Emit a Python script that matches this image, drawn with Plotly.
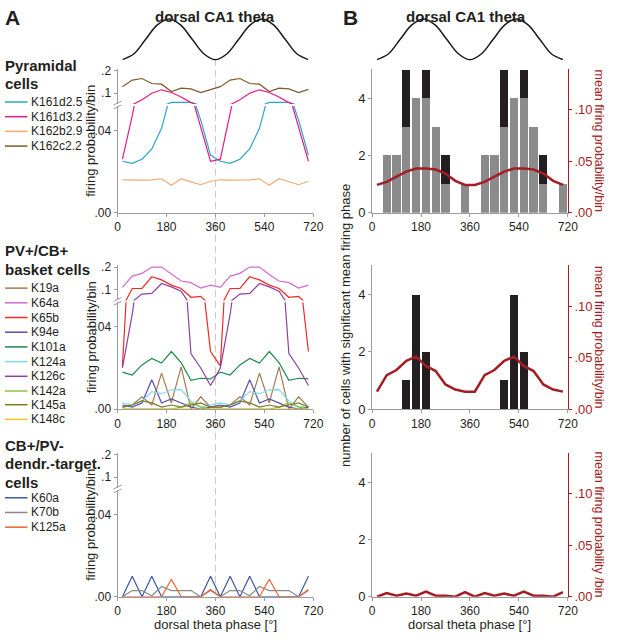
import plotly.graph_objects as go

W, H = 617, 640
def px(x): return x / W
def py(y): return 1 - y / H

# ---------------- data ----------------
phase = [18, 54, 90, 126, 162, 198, 234, 270, 306, 342,
         378, 414, 450, 486, 522, 558, 594, 630, 666, 702]
x_tickvals = [0, 180, 360, 540, 720]
x_ticktext = ["0", "180", "360", "540", "720"]
# schematic theta oscillation (trough at 0/360/720, peak at 180/540)
theta_phase = [0, 45, 90, 135, 180, 225, 270, 315, 360, 405, 450, 495, 540, 585, 630, 675, 720]
theta_wave = [-1, -0.71, 0, 0.71, 1, 0.71, 0, -0.71, -1, -0.71, 0, 0.71, 1, 0.71, 0, -0.71, -1]

# firing probability per bin, one theta cycle (figure shows it twice)
pyr_names = ["K161d2.5", "K161d3.2", "K162b2.9", "K162c2.2"]
pyr_colors = ["#2aa5c6", "#e8198b", "#f2aa72", "#7b5a2b"]
K161d2_5 = [0.025, 0.024, 0.026, 0.031, 0.041, 0.059, 0.060, 0.059, 0.045, 0.028]
K161d3_2 = [0.026, 0.047, 0.071, 0.100, 0.115, 0.103, 0.083, 0.058, 0.042, 0.025]
K162b2_9 = [0.016, 0.0158, 0.0158, 0.016, 0.0165, 0.0133, 0.0165, 0.015, 0.0136, 0.0153]
K162c2_2 = [0.129, 0.158, 0.165, 0.143, 0.140, 0.107, 0.122, 0.119, 0.103, 0.117]
pyr_values = [K161d2_5, K161d3_2, K162b2_9, K162c2_2]

bc_names = ["K19a", "K64a", "K65b", "K94e", "K101a", "K124a", "K126c", "K142a", "K145a", "K148c"]
bc_colors = ["#a27b52", "#cf6bcf", "#ee2a24", "#5a4fa8", "#1f8a4c", "#7fd9ea",
             "#8e3f9e", "#86c540", "#7d7a23", "#f6c620"]
K19a = [0.001, 0.002, 0.006, 0.002, 0.0175, 0.003, 0.0205, 0.0, 0.006, 0.001]
K64a = [0.110, 0.160, 0.172, 0.200, 0.200, 0.167, 0.138, 0.131, 0.107, 0.120]
K65b = [0.021, 0.105, 0.105, 0.157, 0.143, 0.120, 0.105, 0.066, 0.070, 0.028]
K94e = [0.002, 0.001, 0.003, 0.0143, 0.003, 0.005, 0.003, 0.001, 0.0, 0.001]
K101a = [0.018, 0.0166, 0.0215, 0.0246, 0.0224, 0.028, 0.0226, 0.014, 0.015, 0.0147]
K124a = [0.003, 0.002, 0.004, 0.0085, 0.0075, 0.0094, 0.0095, 0.004, 0.001, 0.002]
K126c = [0.020, 0.046, 0.080, 0.083, 0.127, 0.112, 0.093, 0.027, 0.020, 0.0115]
K142a = [0.0, 0.0, 0.0, 0.0, 0.0, 0.0, 0.001, 0.003, 0.001, 0.0]
K145a = [0.001, 0.002, 0.004, 0.003, 0.001, 0.002, 0.001, 0.002, 0.003, 0.001]
K148c = [0.0, 0.0, 0.0, 0.0, 0.0, 0.0, 0.0, 0.0, 0.0, 0.0]
bc_values = [K19a, K64a, K65b, K94e, K101a, K124a, K126c, K142a, K145a, K148c]

dt_names = ["K60a", "K70b", "K125a"]
dt_colors = ["#3a55a6", "#8a8a8a", "#f0632a"]
K60a = [0.0, 0.010, 0.0, 0.010, 0.0, 0.0, 0.0, 0.0, 0.0, 0.010]
K70b = [0.0, 0.003, 0.003, 0.0005, 0.005, 0.003, 0.003, 0.003, 0.0, 0.003]
K125a = [0.0, 0.0, 0.0, 0.0, 0.0, 0.0085, 0.0, 0.0, 0.0, 0.0035]
dt_values = [K60a, K70b, K125a]

# panel B: number of cells with significant mean phase (grey / black stacked)
pyr_count_grey = [0, 2, 2, 3, 4, 4, 3, 1, 0, 1, 0, 2, 2, 3, 4, 4, 3, 1, 0, 1]
pyr_count_black = [0, 0, 0, 2, 0, 1, 0, 1, 0, 0, 0, 0, 0, 2, 0, 1, 0, 1, 0, 0]
bc_count = [0, 0, 0, 1, 4, 2, 0, 0, 0, 0, 0, 0, 0, 1, 4, 2, 0, 0, 0, 0]
dt_count = [0] * 20
pyr_mean = [0.027, 0.030, 0.035, 0.040, 0.043, 0.043, 0.042, 0.038, 0.031, 0.027]
bc_mean = [0.017, 0.033, 0.038, 0.047, 0.051, 0.042, 0.037, 0.024, 0.019, 0.017]
dt_mean = [0.0, 0.0035, 0.001, 0.003, 0.001, 0.005, 0.001, 0.001, 0.0, 0.0045]

def two_cycles(v):
    return list(v) + list(v)

# ---------------- styling ----------------
FONT = "Liberation Sans, Arial, sans-serif"
TXT = "#231f20"
AX = "#9d9d9d"
RED = "#a51d24"
GREY_BAR = "#8b8b8b"
BLACK_BAR = "#231f20"

TOPS = [65, 265.5, 457]
PH = 147

fig = go.Figure()

def note(text, x, y, size=13, color=TXT, angle=0, xanchor="center"):
    return dict(text=text, x=px(x), y=py(y), xref="paper", yref="paper",
                xanchor=xanchor, yanchor="middle", textangle=angle, showarrow=False,
                font=dict(family=FONT, size=size, color=color))

def xaxis(dom, anchor):
    return dict(domain=[px(dom[0]), px(dom[1])], range=[0, 720], anchor=anchor,
                tickvals=x_tickvals, ticktext=x_ticktext, showline=True, linecolor=AX,
                linewidth=1, ticks="outside", ticklen=3, tickcolor=AX, showgrid=False,
                zeroline=False, tickfont=dict(family=FONT, size=12, color=TXT))

layout = dict(width=W, height=H, margin=dict(l=0, r=0, t=0, b=0),
              paper_bgcolor="white", plot_bgcolor="rgba(0,0,0,0)",
              showlegend=False, barmode="stack", bargap=0)

A_X = (117, 317)
B_X = (377, 577)
LOW_RANGE = [0, 0.0519]
UP_RANGE = [0.0522, 0.2087]

shapes = []
annotations = []

groups = [(pyr_values, pyr_colors), (bc_values, bc_colors), (dt_values, dt_colors)]
for i, T in enumerate(TOPS):
    xn = 1 + i
    ylow = 1 + 2 * i
    yup = 2 + 2 * i
    xk = "xaxis" if xn == 1 else f"xaxis{xn}"
    ylk = "yaxis" if ylow == 1 else f"yaxis{ylow}"
    yuk = f"yaxis{yup}"
    xref = "x" if xn == 1 else f"x{xn}"
    ylref = "y" if ylow == 1 else f"y{ylow}"
    yuref = f"y{yup}"
    layout[xk] = xaxis(A_X, ylref)
    layout[ylk] = dict(domain=[py(T + PH), py(T + 38)], range=LOW_RANGE, anchor=xref,
                       tickvals=[0, 0.04], ticktext=[".00", ".04"], showline=True,
                       linecolor=AX, ticks="outside", ticklen=3, tickcolor=AX,
                       showgrid=False, zeroline=False,
                       tickfont=dict(family=FONT, size=12, color=TXT))
    layout[yuk] = dict(domain=[py(T + 36), py(T)], range=UP_RANGE, anchor=xref,
                       tickvals=[0.1, 0.2], ticktext=[".1", ".2"], showline=True,
                       linecolor=AX, ticks="outside", ticklen=3, tickcolor=AX,
                       showgrid=False, zeroline=False,
                       tickfont=dict(family=FONT, size=12, color=TXT))
    vals, cols = groups[i]
    for v, c in zip(vals, cols):
        for yr in (ylref, yuref):
            fig.add_trace(go.Scatter(x=phase, y=two_cycles(v), mode="lines",
                                     line=dict(color=c, width=1.2), xaxis=xref, yaxis=yr,
                                     hoverinfo="skip"))
    yb = T + 37
    for d in (-2, 2):
        shapes.append(dict(type="line", xref="paper", yref="paper",
                           x0=px(113), y0=py(yb + d + 2), x1=px(121), y1=py(yb + d - 2),
                           line=dict(color=AX, width=1)))
    annotations.append(note("firing probability/bin", 90, T + PH / 2, angle=-90))

counts = [(pyr_count_grey, pyr_count_black), (None, bc_count), (None, dt_count)]
means = [pyr_mean, bc_mean, dt_mean]
right_titles = ["mean firing probability/bin", "mean firing probability/bin",
                "mean firing probability /bin"]
for i, T in enumerate(TOPS):
    xn = 4 + i
    yl = 7 + 2 * i
    yr = 8 + 2 * i
    xref, ylref, yrref = f"x{xn}", f"y{yl}", f"y{yr}"
    layout[f"xaxis{xn}"] = xaxis(B_X, ylref)
    layout[f"yaxis{yl}"] = dict(domain=[py(T + PH), py(T)], range=[0, 5.03], anchor=xref,
                                tickvals=[0, 2, 4], ticktext=["0", "2", "4"], showline=True,
                                linecolor=AX, ticks="outside", ticklen=3, tickcolor=AX,
                                showgrid=False, zeroline=False,
                                tickfont=dict(family=FONT, size=13, color=TXT))
    layout[f"yaxis{yr}"] = dict(domain=[py(T + PH), py(T)], range=[0, 0.14], anchor=xref,
                                overlaying=ylref, side="right",
                                tickvals=[0, 0.05, 0.1], ticktext=[".00", ".05", ".10"],
                                showline=True, linecolor=RED, ticks="outside", ticklen=3,
                                tickcolor=RED, showgrid=False, zeroline=False,
                                tickfont=dict(family=FONT, size=13, color=RED))
    g, b = counts[i]
    if g is not None:
        fig.add_trace(go.Bar(x=phase, y=g, width=30, marker=dict(color=GREY_BAR, line=dict(width=0)),
                             xaxis=xref, yaxis=ylref, hoverinfo="skip"))
    fig.add_trace(go.Bar(x=phase, y=b, width=30, marker=dict(color=BLACK_BAR, line=dict(width=0)),
                         xaxis=xref, yaxis=ylref, hoverinfo="skip"))
    fig.add_trace(go.Scatter(x=phase, y=two_cycles(means[i]), mode="lines",
                             line=dict(color=RED, width=2.5), xaxis=xref, yaxis=yrref,
                             hoverinfo="skip"))
    annotations.append(note(right_titles[i], 609, T + PH / 2, size=12.5, color=RED, angle=90))

for xn, yn, xd in ((10, 13, (122, 312)), (11, 14, (382, 572))):
    layout[f"xaxis{xn}"] = dict(domain=[px(xd[0]), px(xd[1])], range=[0, 720], visible=False,
                                anchor=f"y{yn}")
    layout[f"yaxis{yn}"] = dict(domain=[py(57), py(13)], range=[-1.06, 1.06], visible=False,
                                anchor=f"x{xn}")
    fig.add_trace(go.Scatter(x=theta_phase, y=theta_wave, mode="lines",
                             line=dict(color="#1a1a1a", width=1.5, shape="spline", smoothing=1.0),
                             xaxis=f"x{xn}", yaxis=f"y{yn}", hoverinfo="skip"))

shapes.append(dict(type="line", xref="paper", yref="paper", x0=px(217), x1=px(217),
                   y0=py(55), y1=py(604), layer="below",
                   line=dict(color="#c8c8c8", width=1, dash="7px,4px")))

legend_blocks = [
    (["Pyramidal", "cells"], [62, 80], pyr_names, pyr_colors, [99, 114, 129, 144]),
    (["PV+/CB+", "basket cells"], [251, 270], bc_names, bc_colors,
     [289, 304, 319, 334, 349, 364, 379, 394, 408, 423]),
    (["CB+/PV-", "dendr.-target.", "cells"], [450, 468, 487], dt_names, dt_colors,
     [503, 518, 533]),
]
for titles, tys, names, cols, iys in legend_blocks:
    for t, ty in zip(titles, tys):
        annotations.append(note(f"<b>{t}</b>", 0, ty, size=15, xanchor="left"))
    for n, c, iy in zip(names, cols, iys):
        shapes.append(dict(type="line", xref="paper", yref="paper", x0=px(2), x1=px(25),
                           y0=py(iy), y1=py(iy), line=dict(color=c, width=1.5)))
        annotations.append(note(n, 27, iy, size=12, xanchor="left"))

annotations += [
    note("<b>A</b>", 10, 13, size=21),
    note("<b>B</b>", 354.5, 13, size=21),
    note("<b>dorsal CA1 theta</b>", 217, 12, size=15),
    note("<b>dorsal CA1 theta</b>", 472.5, 12, size=15),
    note("dorsal theta phase [°]", 217, 632),
    note("dorsal theta phase [°]", 477, 632),
    note("number of cells with significant mean firing phase", 350, 327, angle=-90),
]

layout["shapes"] = shapes
layout["annotations"] = annotations
fig.update_layout(**layout)

# make the figure exactly fill the browser viewport
fit_js = """
var gd = document.getElementById('{plot_id}');
document.documentElement.style.margin = '0';
document.documentElement.style.overflow = 'hidden';
document.body.style.margin = '0';
document.body.style.overflow = 'hidden';
var w = window.innerWidth, h = window.innerHeight;
if (w > 0 && h > 0) { Plotly.relayout(gd, {width: w, height: h}); }
"""
fig.write_html("out.html", config={"displayModeBar": False, "staticPlot": True},
               post_script=fit_js)
